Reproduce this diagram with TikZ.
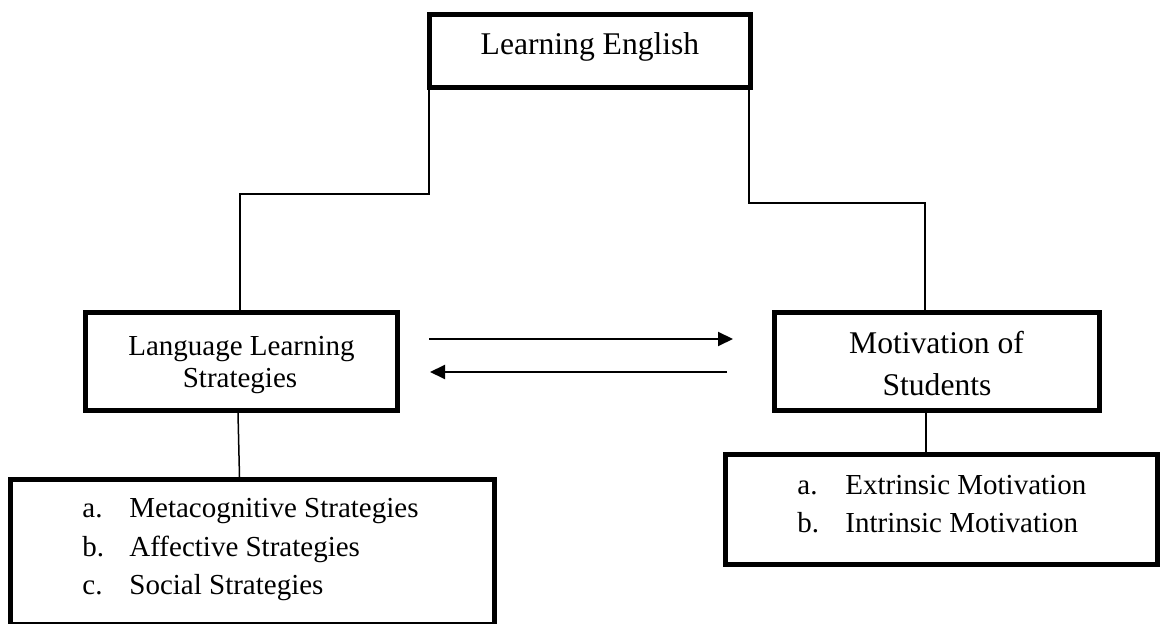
\documentclass[tikz,border=0pt]{standalone}
\usepackage{fontspec}
\setmainfont{Liberation Serif}
\usetikzlibrary{arrows.meta}
\begin{document}
\begin{tikzpicture}[x=0.5pt,y=-0.5pt,
  box/.style={draw, line width=2.5pt, inner sep=0pt, rectangle},
  conn/.style={draw, line width=0.75pt},
  arr/.style={draw, line width=1pt, -{Triangle[length=7.5pt,width=7pt]}},
  txtA/.style={inner sep=0pt, font=\fontsize{15.8}{19}\selectfont},
  txtB/.style={inner sep=0pt, font=\fontsize{14.5}{17}\selectfont}]
\useasboundingbox (0,0) rectangle (1162,624);
% boxes
\node[box, minimum width=160.5pt, minimum height=36.5pt] (top) at (590,51) {};
\node[box, minimum width=156pt, minimum height=49pt] (ml) at (241.5,361.5) {};
\node[box, minimum width=162.5pt, minimum height=49pt] (mr) at (937,361.5) {};
\node[box, minimum width=242pt, minimum height=72.75pt] (bl) at (252.5,552.25) {};
\node[box, minimum width=216pt, minimum height=55pt] (br) at (941.5,509.5) {};
% texts
\node[txtA, anchor=base] (topT) at (590,55) {Learning English};
\node[txtB, anchor=base] (mlT1) at (241.5,356) {Language Learning};
\node[txtB, anchor=base] (mlT2) at (240,388) {Strategies};
\node[txtA, anchor=base] (mrT1) at (936.5,354) {Motivation of};
\node[txtA, anchor=base] (mrT2) at (937,396) {Students};
\node[txtB, anchor=base west] (bla) at (82,518) {a.};
\node[txtB, anchor=base west] (blat) at (129,518) {Metacognitive Strategies};
\node[txtB, anchor=base west] (blb) at (82,557) {b.};
\node[txtB, anchor=base west] (blbt) at (129,557) {Affective Strategies};
\node[txtB, anchor=base west] (blc) at (82,595) {c.};
\node[txtB, anchor=base west] (blct) at (129,595) {Social Strategies};
\node[txtB, anchor=base west] (bra) at (797,495) {a.};
\node[txtB, anchor=base west] (brat) at (845,495) {Extrinsic Motivation};
\node[txtB, anchor=base west] (brb) at (797,533) {b.};
\node[txtB, anchor=base west] (brbt) at (845,533) {Intrinsic Motivation};
% connectors
\draw[conn] (429,0 |- top.south) -- (429,194) -| (240,0 |- ml.north);
\draw[conn] (749,0 |- top.south) -- (749,203) -| (925,0 |- mr.north);
\draw[conn] (238,0 |- ml.south) -- (239.5,0 |- bl.north);
\draw[conn] (926,0 |- mr.south) -- (926,0 |- br.north);
% arrows
\coordinate (a1s) at (429,339);
\coordinate (a1e) at (733,339);
\coordinate (a2s) at (727,372);
\coordinate (a2e) at (430,372);
\draw[arr] (a1s) -- (a1e);
\draw[arr] (a2s) -- (a2e);
\end{tikzpicture}
\end{document}
